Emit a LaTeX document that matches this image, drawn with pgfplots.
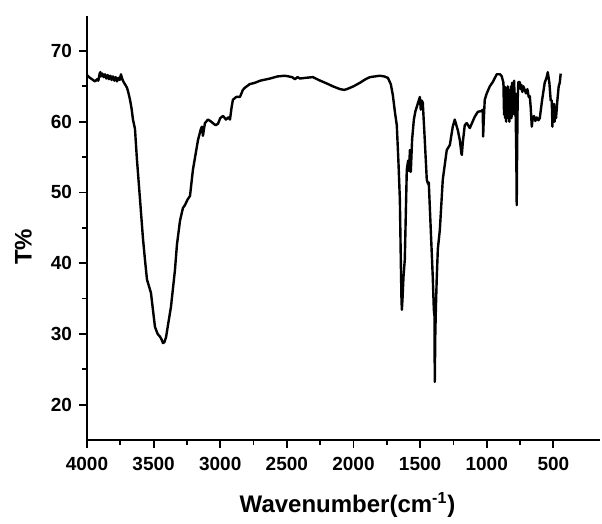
\documentclass[border=0pt]{standalone}
\usepackage{fontspec}
\setmainfont{Liberation Sans}
\usepackage{pgfplots}
\pgfplotsset{compat=1.18}

\begin{document}
\begin{tikzpicture}
\begin{axis}[
  name=ir,
  scale only axis,
  width=256.5pt, height=212.2pt,
  x dir=reverse,
  xmin=150, xmax=4000,
  ymin=15, ymax=75,
  xtick={500,1000,...,4000},
  ytick={20,30,...,70},
  minor x tick num=1,
  minor y tick num=1,
  axis lines*=left,
  axis line style={line width=1pt},
  tick align=outside,
  major tick length=4pt,
  minor tick length=2.5pt,
  tick style={line width=0.9pt, black},
  /pgf/number format/assume math mode=true,
  /pgf/number format/1000 sep={},
  tick label style={font=\fontsize{9.5}{11}\selectfont\bfseries},
  xticklabel style={yshift=-1pt},
  xlabel={Wavenumber(cm\textsuperscript{-1})},
  ylabel={T\%},
  label style={font=\fontsize{12}{14}\selectfont\bfseries},
  xlabel style={at={(axis description cs:0.508,-0.153)}, anchor=center},
  ylabel style={at={(axis description cs:-0.1238,0.455)}, anchor=center},
  clip=false,
]
\addplot[black, line width=1.2pt, line join=round] coordinates {
(4000,66.6)(3985,66.3)(3970,66.1)(3955,65.9)(3940,65.7)(3925,66.0)(3915,65.8)(3905,66.8)
(3900,67.0)(3895,66.4)(3885,66.8)(3875,66.3)(3865,66.7)(3855,66.1)(3845,66.6)(3835,66.0)
(3825,66.5)(3815,65.9)(3805,66.4)(3795,65.8)(3785,66.3)(3775,65.7)(3765,66.2)(3755,65.9)
(3745,66.7)(3735,66.0)(3725,65.6)(3715,65.3)(3700,64.8)(3692,64.3)(3677,63.1)(3665,61.8)
(3655,60.3)(3640,59.0)(3625,54.6)(3602,49)(3580,43.5)(3565,40.5)(3550,37.7)(3520,35.8)
(3490,31)(3470,30)(3452,29.6)(3440,29.2)(3430,28.7)(3420,28.8)(3407,29.5)(3390,31.5)
(3370,33.8)(3340,39)(3325,42.6)(3302,46)(3280,47.8)(3265,48.2)(3245,49)(3227,49.5)
(3205,53.2)(3167,57.4)(3145,59.0)(3137,59.3)(3130,58.0)(3125,58.6)(3115,59.8)(3092,60.3)
(3075,60.1)(3055,59.8)(3035,59.5)(3017,59.7)(3000,60.5)(2980,60.8)(2965,60.5)(2957,60.3)
(2940,60.6)(2927,60.3)(2915,62)(2905,63.1)(2880,63.5)(2852,63.5)(2830,64.5)(2815,64.8)
(2780,65.3)(2740,65.5)(2700,65.8)(2627,66.1)(2570,66.4)(2515,66.5)(2460,66.3)(2440,66.0)
(2420,66.3)(2402,66.1)(2360,66.2)(2305,66.3)(2250,65.8)(2200,65.4)(2155,65.0)(2100,64.6)
(2070,64.5)(2050,64.6)(2000,65.0)(1952,65.5)(1910,66.0)(1877,66.3)(1840,66.4)(1802,66.5)
(1770,66.4)(1742,66.2)(1720,65.3)(1705,63.8)(1690,61.5)(1675,59.5)(1662,54)(1652,49)
(1645,40.5)(1640,35)(1637,33.4)(1632,35)(1625,38)(1615,40.5)(1600,53.2)(1590,54.5)
(1582,53)(1577,56)(1570,52.9)(1560,57.5)(1547,60.3)(1535,61.5)(1525,62.1)(1510,63.0)
(1502,63.5)(1495,61.7)(1488,63.0)(1480,62.7)(1465,57.4)(1450,51.8)(1440,51.2)(1435,51.4)
(1420,44.7)(1405,38)(1397,33.4)(1392,32.5)(1390,23.2)(1386,30)(1382,33.4)(1375,38)
(1367,42)(1352,44.7)(1330,51.8)(1300,56)(1277,56.7)(1255,59.3)(1240,60.3)(1228,59.5)
(1217,58.8)(1202,57.4)(1190,55.5)(1187,55.3)(1180,57)(1165,59.5)(1150,59.8)(1127,59.1)
(1090,60.7)(1067,61.4)(1040,61.5)(1030,61.7)(1027,57.9)(1023,60)(1015,63.1)(1000,64)
(977,65.0)(955,65.6)(925,66.7)(900,66.7)(887,66.4)(875,65.5)(870,61)(866,65)(862,60.5)
(858,64.5)(854,60)(850,64.8)(846,60.5)(842,65)(838,61)(834,64)(830,60)(826,64.5)
(822,61)(818,65)(814,60.5)(810,65.5)(806,61)(802,65.5)(798,62)(794,65.8)(790,61)
(786,64)(782,60)(778,55)(775,48.2)(772,56)(768,63)(763,65.6)(752,65.6)(745,64.6)
(740,65.2)(733,64.2)(725,65.0)(715,64.5)(705,64.0)(695,64.6)(685,63.5)(677,63.6)
(670,62)(662,59.3)(655,60.5)(645,60.8)(635,60.1)(625,60.6)(612,60.2)(602,60.5)
(585,63)(565,65.5)(550,66.3)(542,67.0)(530,65.5)(520,63)(512,63)(507,59.3)(503,62)
(498,60)(494,62.5)(490,60)(486,62)(480,60.5)(470,63)(460,65)(452,65.5)(445,66.8)
};
\end{axis}
\path (ir.south west) ++(-43.5pt,-42pt) coordinate (bbA);
\path (ir.north east) ++(1pt,7.8pt) coordinate (bbB);
\path[use as bounding box] (bbA) rectangle (bbB);
\end{tikzpicture}
\end{document}
